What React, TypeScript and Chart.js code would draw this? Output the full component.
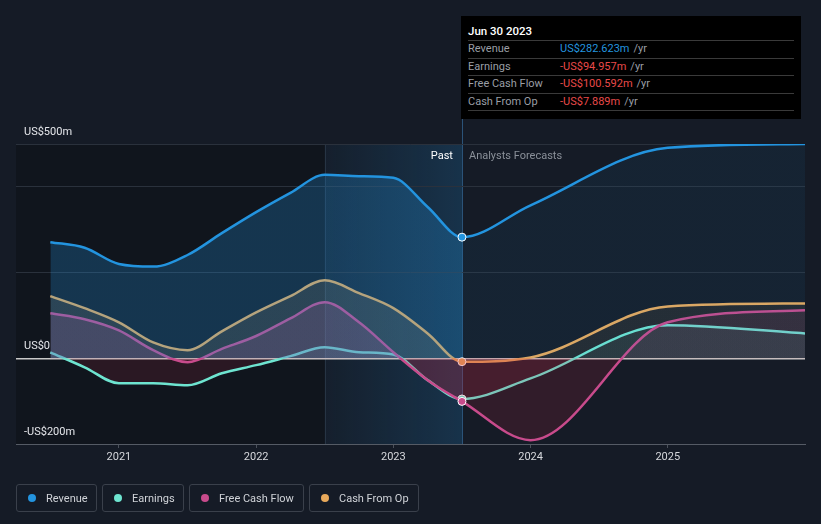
import React, { useEffect, useRef } from 'react';
import { Chart, registerables } from 'chart.js';
Chart.register(...registerables);

// ---- data ----
const years = [2020.5, 2020.75, 2021, 2021.25, 2021.5, 2021.75, 2022, 2022.25, 2022.5, 2022.75, 2023, 2023.25, 2023.5, 2024, 2025, 2026];
const revenue = [271, 258, 220, 214, 241, 292, 341, 386, 428, 425, 421, 353, 282.623, 357, 491, 500];
const earnings = [14, -21, -58, -58, -63, -35, -16, 5, 26, 14, 9, -51, -94.957, -47, 77, 58];
const freeCashFlow = [105, 91, 65, 19, -9, 22, 52, 93, 131, 84, 14, -51, -100.592, -191, 84, 112];
const cashFromOp = [145, 117, 84, 37, 19, 63, 107, 145, 182, 152, 117, 58, -7.889, 2, 121, 128];
const yTicks = [-200, 0, 200, 400, 500];
const yTickLabels: Record<string, string> = { '500': 'US$500m', '0': 'US$0', '-200': '-US$200m' };
const xTicks = [2021, 2022, 2023, 2024, 2025];
const xMin = 2020.25;
const xMax = 2026;
const bandStart = 2022.5;
const nowYear = 2023.5;
const nowIndex = 12;

const BG = '#151b26';
const FONT = 'Roboto, "Noto Sans", sans-serif';

function pts(vals: number[]) {
  return vals.map((v, i) => ({ x: years[i], y: v }));
}

function splitFill(alphaPast: number, alphaFuture: number, rgb: string) {
  return (c: any) => {
    const chart = c.chart;
    const ca = chart.chartArea;
    if (!ca) return `rgba(${rgb},${alphaPast})`;
    const x = chart.scales.x;
    const p = (x.getPixelForValue(nowYear) - ca.left) / (ca.right - ca.left);
    const g = chart.ctx.createLinearGradient(ca.left, 0, ca.right, 0);
    g.addColorStop(0, `rgba(${rgb},${alphaPast})`);
    g.addColorStop(p, `rgba(${rgb},${alphaPast})`);
    g.addColorStop(Math.min(1, p + 0.001), `rgba(${rgb},${alphaFuture})`);
    g.addColorStop(1, `rgba(${rgb},${alphaFuture})`);
    return g;
  };
}

const bgPlugin = {
  id: 'bgPlugin',
  beforeDraw(chart: any) {
    const { ctx, chartArea: ca, scales } = chart;
    const x = scales.x;
    const xb = x.getPixelForValue(bandStart);
    const xn = x.getPixelForValue(nowYear);
    ctx.save();
    ctx.fillStyle = 'rgba(0,0,0,0.22)';
    ctx.fillRect(ca.left, ca.top, xb - ca.left, ca.bottom - ca.top);
    const g = ctx.createLinearGradient(xb, 0, xn, 0);
    g.addColorStop(0, 'rgba(35,148,223,0.04)');
    g.addColorStop(1, 'rgba(35,148,223,0.2)');
    ctx.fillStyle = g;
    ctx.fillRect(xb, ca.top, xn - xb, ca.bottom - ca.top);
    ctx.strokeStyle = 'rgba(120,150,180,0.18)';
    ctx.lineWidth = 1;
    ctx.beginPath();
    ctx.moveTo(Math.round(xb) + 0.5, ca.top);
    ctx.lineTo(Math.round(xb) + 0.5, ca.bottom);
    ctx.stroke();
    ctx.strokeStyle = 'rgba(45,90,130,0.9)';
    ctx.beginPath();
    ctx.moveTo(Math.round(xn) + 0.5, 118);
    ctx.lineTo(Math.round(xn) + 0.5, ca.bottom);
    ctx.stroke();
    ctx.restore();
  },
  afterDraw(chart: any) {
    const { ctx, chartArea: ca, scales } = chart;
    const xn = scales.x.getPixelForValue(nowYear);
    ctx.save();
    ctx.font = `11px ${FONT}`;
    ctx.textBaseline = 'middle';
    ctx.textAlign = 'right';
    ctx.fillStyle = '#ffffff';
    ctx.fillText('Past', xn - 9, ca.top + 12);
    ctx.textAlign = 'left';
    ctx.fillStyle = '#8a9099';
    ctx.fillText('Analysts Forecasts', xn + 7, ca.top + 12);
    ctx.restore();
  },
};

const series = [
  { label: 'Revenue', data: revenue, color: '#2394df', rgb: '35,148,223', ap: 0.26, af: 0.07, below: null as any },
  { label: 'Free Cash Flow', data: freeCashFlow, color: '#c84b8c', rgb: '200,75,140', ap: 0.22, af: 0.1, below: 'rgba(200,40,70,0.16)' },
  { label: 'Earnings', data: earnings, color: '#6ee4d0', rgb: '110,228,208', ap: 0.08, af: 0.08, below: 'rgba(200,40,70,0.14)' },
  { label: 'Cash From Op', data: cashFromOp, color: '#e8a95b', rgb: '232,169,91', ap: 0.14, af: 0.08, below: 'rgba(200,40,70,0.05)' },
];

const legendItems = [
  { label: 'Revenue', color: '#2394df', width: 81 },
  { label: 'Earnings', color: '#6ee4d0', width: 82 },
  { label: 'Free Cash Flow', color: '#c84b8c', width: 115 },
  { label: 'Cash From Op', color: '#e8a95b', width: 110 },
];

const tooltipRows = [
  { label: 'Revenue', value: 'US$282.623m', color: '#2394df' },
  { label: 'Earnings', value: '-US$94.957m', color: '#e84a4a' },
  { label: 'Free Cash Flow', value: '-US$100.592m', color: '#e84a4a' },
  { label: 'Cash From Op', value: '-US$7.889m', color: '#e84a4a' },
];

export default function App() {
  const ref = useRef<HTMLCanvasElement>(null);
  useEffect(() => {
    document.body.style.margin = '0';
    document.body.style.background = BG;
    const chart = new Chart(ref.current!, {
      type: 'line',
      data: {
        datasets: series.map((s) => ({
          label: s.label,
          data: pts(s.data),
          borderColor: s.color,
          borderWidth: 2.5,
          backgroundColor: s.color,
          fill: {
            target: 'origin',
            above: splitFill(s.ap, s.af, s.rgb),
            below: s.below || 'rgba(0,0,0,0)',
          },
          cubicInterpolationMode: 'monotone',
          pointRadius: (c: any) => (c.dataIndex === nowIndex ? 4 : 0),
          pointHoverRadius: 0,
          pointBackgroundColor: s.color,
          pointBorderColor: '#ffffff',
          pointBorderWidth: 1,
        })) as any,
      },
      options: {
        animation: false,
        responsive: false,
        maintainAspectRatio: false,
        events: [],
        layout: { padding: { left: 16, right: 16, top: 144, bottom: 50 } },
        plugins: { legend: { display: false }, tooltip: { enabled: false } },
        scales: {
          x: {
            type: 'linear',
            min: xMin,
            max: xMax,
            afterBuildTicks: (axis: any) => {
              axis.ticks = xTicks.map((v) => ({ value: v }));
            },
            afterFit: (axis: any) => {
              axis.height = 30;
            },
            grid: { drawOnChartArea: false, drawTicks: true, tickLength: 4, color: '#4a505a' },
            border: { display: true, color: '#555b65', width: 1 },
            ticks: {
              color: '#d6d8dc',
              font: { size: 11, family: FONT },
              padding: 3,
              maxRotation: 0,
              callback: (v: any) => String(v),
            },
          },
          y: {
            min: -200,
            max: 500,
            afterBuildTicks: (axis: any) => {
              axis.ticks = yTicks.map((v) => ({ value: v }));
            },
            afterFit: (axis: any) => {
              axis.width = 0;
            },
            grid: {
              drawTicks: false,
              color: (c: any) => (c.tick && c.tick.value === 0 ? '#c9c9c9' : c.tick && c.tick.value === -200 ? '#555b65' : '#2a313c'),
              lineWidth: (c: any) => (c.tick && c.tick.value === 0 ? 1.5 : 1),
            },
            border: { display: false },
            ticks: {
              mirror: true,
              padding: 8,
              labelOffset: -12,
              color: '#e4e6ea',
              font: { size: 11, family: FONT },
              callback: (v: any) => yTickLabels[String(v)] ?? '',
            },
          },
        },
      },
      plugins: [bgPlugin],
    });
    return () => chart.destroy();
  }, []);

  return (
    <div style={{ position: 'relative', width: 821, height: 524, background: BG, fontFamily: FONT, overflow: 'hidden' }}>
      <canvas ref={ref} width={821} height={524} style={{ position: 'absolute', left: 0, top: 0, width: 821, height: 524 }} />
      <div
        style={{
          position: 'absolute',
          left: 461,
          top: 16,
          width: 340,
          height: 103,
          background: '#000000',
          boxSizing: 'border-box',
          padding: '0 7px',
        }}
      >
        <div style={{ height: 24, lineHeight: '30px', color: '#ffffff', fontSize: 11.5, fontWeight: 500, borderBottom: '1px solid #3a3a3a' }}>Jun 30 2023</div>
        {tooltipRows.map((r) => (
          <div key={r.label} style={{ display: 'flex', height: 16.5, lineHeight: '16.5px', fontSize: 11, borderBottom: '1px solid #3a3a3a' }}>
            <span style={{ width: 92, color: '#9a9ea5' }}>{r.label}</span>
            <span style={{ color: r.color }}>{r.value}</span>
            <span style={{ color: '#9a9ea5', marginLeft: 4 }}>/yr</span>
          </div>
        ))}
      </div>
      <div style={{ position: 'absolute', left: 16, top: 484, display: 'flex', gap: 5 }}>
        {legendItems.map((l) => (
          <div
            key={l.label}
            style={{
              width: l.width,
              height: 28,
              boxSizing: 'border-box',
              border: '1px solid #3a404b',
              borderRadius: 3,
              display: 'flex',
              alignItems: 'center',
              paddingLeft: 11,
              fontSize: 11,
              color: '#d0d3d8',
            }}
          >
            <span style={{ width: 8, height: 8, borderRadius: 4, background: l.color, marginRight: 10, display: 'inline-block' }} />
            {l.label}
          </div>
        ))}
      </div>
    </div>
  );
}
